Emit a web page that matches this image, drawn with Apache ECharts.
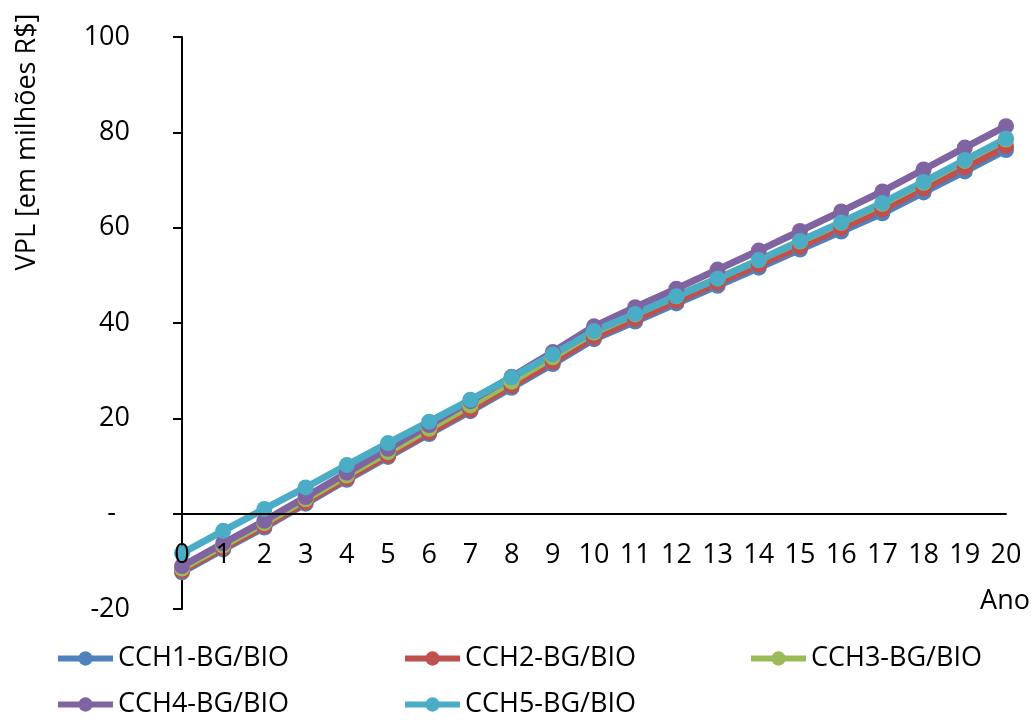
<!DOCTYPE html>
<html>
<head>
<meta charset="utf-8">
<script src="https://cdn.jsdelivr.net/npm/echarts@6/dist/echarts.min.js"></script>
<style>
	html, body { margin: 0; padding: 0; background: #fff; }
	#chart { width: 1034px; height: 720px; }
</style>
</head>
<body>
<div id="chart"></div>
<script>
	// anos
	var anos = ['0', '1', '2', '3', '4', '5', '6', '7', '8', '9', '10', '11', '12', '13', '14', '15', '16', '17', '18', '19', '20'];
	var yTicks = [-20, 0, 20, 40, 60, 80, 100];

	// VPL [em milhões R$] por cenário
	var cch1 = [-12.3, -7.5, -2.9, 2.1, 7.1, 11.9, 16.7, 21.5, 26.4, 31.4, 36.6, 40.3, 44.1, 47.8, 51.6, 55.4, 59.2, 63.0, 67.4, 71.8, 76.3];
	var cch2 = [-12.0, -7.2, -2.6, 2.4, 7.4, 12.2, 17.0, 21.8, 26.8, 31.8, 37.0, 40.8, 44.6, 48.4, 52.2, 56.0, 59.9, 63.8, 68.2, 72.6, 77.1];
	var cch3 = [-11.5, -6.7, -2.0, 3.0, 8.0, 12.9, 17.8, 22.7, 27.7, 32.8, 38.0, 41.8, 45.6, 49.4, 53.2, 57.1, 61.0, 65.0, 69.4, 74.0, 78.5];
	var cch4 = [-11.0, -6.2, -1.5, 3.5, 8.6, 13.6, 18.6, 23.6, 28.7, 33.9, 39.3, 43.3, 47.2, 51.2, 55.2, 59.3, 63.4, 67.6, 72.2, 76.8, 81.3];
	var cch5 = [-8.3, -3.6, 1.0, 5.5, 10.2, 14.8, 19.3, 23.9, 28.6, 33.4, 38.3, 41.9, 45.6, 49.3, 53.2, 57.2, 61.1, 65.2, 69.6, 74.2, 78.7];

	var nomes = ['CCH1-BG/BIO', 'CCH2-BG/BIO', 'CCH3-BG/BIO', 'CCH4-BG/BIO', 'CCH5-BG/BIO'];
	var cores = ['#4F81BD', '#C0504D', '#9BBB59', '#8064A2', '#4BACC6'];
	var valores = [cch1, cch2, cch3, cch4, cch5];

	var fonte = "'Open Sans', 'DejaVu Sans', sans-serif";
	var tam = 27;

	var myChart = echarts.init(document.getElementById('chart'));

	var series = [];
	valores.forEach(function(val, i) {
		series.push({
			name: nomes[i],
			type: 'line',
			data: val,
			symbol: 'circle',
			symbolSize: 16,
			showAllSymbol: true,
			lineStyle: { width: 7, color: cores[i] },
			itemStyle: { color: cores[i] },
			emphasis: { disabled: true }
		});
	});

	var legendText = { fontSize: tam, color: '#000', fontFamily: fonte };
	function legenda(left, data) {
		return {
			left: left,
			top: 645,
			padding: 0,
			orient: 'vertical',
			itemGap: 19,
			itemWidth: 55,
			itemHeight: 18,
			lineStyle: { width: 6 },
			textStyle: legendText,
			data: data
		};
	}

	var option = {
		animation: false,
		color: cores,
		textStyle: { fontFamily: fonte },
		grid: { left: 182, right: 28, top: 37, bottom: 111 },
		legend: [
			legenda(55, [nomes[0], nomes[3]]),
			legenda(402, [nomes[1], nomes[4]]),
			legenda(748, [nomes[2]])
		],
		xAxis: {
			type: 'category',
			data: anos,
			boundaryGap: false,
			z: 5,
			axisLine: { onZero: true, lineStyle: { color: '#000', width: 2 } },
			axisTick: { show: false },
			// rótulos junto da linha do zero
			axisLabel: { fontSize: tam, color: '#000', margin: -67, fontFamily: fonte, interval: 0 },
			splitLine: { show: false }
		},
		yAxis: {
			type: 'value',
			min: yTicks[0],
			max: yTicks[yTicks.length - 1],
			interval: 20,
			axisLine: { show: true, onZero: false, lineStyle: { color: '#000', width: 2 } },
			axisTick: { show: true, inside: false, length: 9, lineStyle: { color: '#000', width: 2 } },
			axisLabel: {
				fontSize: tam,
				color: '#000',
				margin: 52,
				fontFamily: fonte,
				formatter: function(v) {
					return v === 0 ? '{z|-}' : String(v);
				},
				rich: {
					z: { fontSize: tam, color: '#000', fontFamily: fonte, padding: [0, 14, 0, 0] }
				}
			},
			splitLine: { show: false }
		},
		graphic: [
			{
				type: 'text',
				x: 27,
				y: 142,
				rotation: Math.PI / 2,
				style: {
					text: 'VPL [em milhões R$]',
					fontSize: tam,
					fontFamily: fonte,
					fill: '#000',
					align: 'center',
					verticalAlign: 'middle'
				}
			},
			{
				type: 'text',
				x: 1005,
				y: 601,
				style: {
					text: 'Ano',
					fontSize: tam,
					fontFamily: fonte,
					fill: '#000',
					align: 'center',
					verticalAlign: 'middle'
				}
			}
		],
		series: series
	};

	myChart.setOption(option);
</script>
</body>
</html>
